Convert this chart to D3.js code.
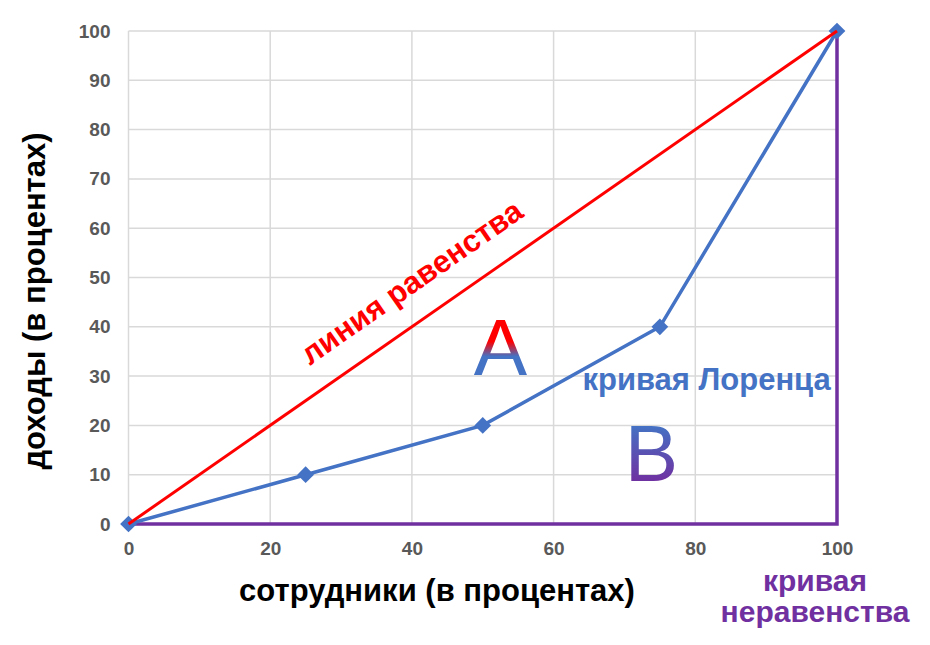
<!DOCTYPE html>
<html>
<head>
<meta charset="utf-8">
<script src="https://cdn.jsdelivr.net/npm/d3@7"></script>
<style>
  body { margin: 0; background: #fff; }
  text { font-family: "Liberation Sans", Arial, sans-serif; font-weight: bold; }
</style>
</head>
<body>
<svg id="chart" width="930" height="645"></svg>
<script>
// Lorenz curve chart

const xTicks = [0, 20, 40, 60, 80, 100];
const yTicks = [0, 10, 20, 30, 40, 50, 60, 70, 80, 90, 100];
const equalityLine = [[0, 0], [100, 100]];
const lorenzCurve = [[0, 0], [25, 10], [50, 20], [75, 40], [100, 100]];
const inequalityCurve = [[0, 0], [100, 0], [100, 100]];

const svg = d3.select('#chart');
const margin = {left: 128.5, right: 93, top: 31, bottom: 121};
const width = 930, height = 645;

const x = d3.scaleLinear().domain([0, 100]).range([margin.left, width - margin.right]);
const y = d3.scaleLinear().domain([0, 100]).range([height - margin.bottom, margin.top]);

// gradients for A and B letters (user space so stops follow the glyphs)
const defs = svg.append('defs');
const gradA = defs.append('linearGradient').attr('id', 'gradA')
  .attr('gradientUnits', 'userSpaceOnUse')
  .attr('x1', 0).attr('y1', y(37)).attr('x2', 0).attr('y2', y(34));
gradA.append('stop').attr('offset', '0%').attr('stop-color', '#ff0000');
gradA.append('stop').attr('offset', '100%').attr('stop-color', '#4472c4');
const gradB = defs.append('linearGradient').attr('id', 'gradB')
  .attr('gradientUnits', 'userSpaceOnUse')
  .attr('x1', 0).attr('y1', y(20)).attr('x2', 0).attr('y2', y(8.5));
gradB.append('stop').attr('offset', '0%').attr('stop-color', '#4472c4');
gradB.append('stop').attr('offset', '100%').attr('stop-color', '#7030a0');

// grid
svg.append('g')
  .selectAll('line.hgrid')
  .data(yTicks)
  .enter().append('line')
    .attr('x1', x(0)).attr('x2', x(100))
    .attr('y1', d => y(d)).attr('y2', d => y(d))
    .attr('stroke', '#d9d9d9').attr('stroke-width', 1.5);
svg.append('g')
  .selectAll('line.vgrid')
  .data(xTicks)
  .enter().append('line')
    .attr('y1', y(0)).attr('y2', y(100))
    .attr('x1', d => x(d)).attr('x2', d => x(d))
    .attr('stroke', '#d9d9d9').attr('stroke-width', 1.5);

// axes (labels only)
const xAxis = svg.append('g')
  .attr('transform', `translate(0,${y(0)})`)
  .call(d3.axisBottom(x).tickValues(xTicks).tickSize(0).tickPadding(18));
const yAxis = svg.append('g')
  .attr('transform', `translate(${x(0)},0)`)
  .call(d3.axisLeft(y).tickValues(yTicks).tickSize(0).tickPadding(18));
[xAxis, yAxis].forEach(a => {
  a.select('.domain').remove();
  a.selectAll('text')
    .attr('fill', '#595959')
    .style('font-size', '19px')
    .style('font-family', '"Liberation Sans", Arial, sans-serif')
    .style('font-weight', 'bold');
});

const line = d3.line().x(d => x(d[0])).y(d => y(d[1]));

// inequality curve
svg.append('path')
  .datum(inequalityCurve)
  .attr('d', line)
  .attr('fill', 'none')
  .attr('stroke', '#7030a0')
  .attr('stroke-width', 3.5);

// Lorenz curve
svg.append('path')
  .datum(lorenzCurve)
  .attr('d', line)
  .attr('fill', 'none')
  .attr('stroke', '#4472c4')
  .attr('stroke-width', 3.5);
svg.append('g')
  .selectAll('path.marker')
  .data(lorenzCurve)
  .enter().append('path')
    .attr('d', d3.symbol().type(d3.symbolSquare).size(140))
    .attr('transform', d => `translate(${x(d[0])},${y(d[1])}) rotate(45)`)
    .attr('fill', '#4472c4');

// equality line
svg.append('path')
  .datum(equalityLine)
  .attr('d', line)
  .attr('fill', 'none')
  .attr('stroke', '#ff0000')
  .attr('stroke-width', 3);

// annotations
const angle = -Math.atan((y(0) - y(100)) / (x(100) - x(0))) * 180 / Math.PI;
svg.append('text')
  .attr('transform', `translate(${x(40.8)},${y(47.3)}) rotate(${angle})`)
  .attr('text-anchor', 'middle')
  .attr('fill', '#ff0000')
  .style('font-size', '31px')
  .text('линия равенства');

svg.append('text')
  .attr('x', x(52.5)).attr('y', y(30.3))
  .attr('text-anchor', 'middle')
  .attr('fill', 'url(#gradA)')
  .style('font-weight', 'normal')
  .style('font-size', '80px')
  .text('A');

svg.append('text')
  .attr('x', x(73.8)).attr('y', y(8.8))
  .attr('text-anchor', 'middle')
  .attr('fill', 'url(#gradB)')
  .style('font-weight', 'normal')
  .style('font-size', '80px')
  .text('B');

svg.append('text')
  .attr('x', x(81.6)).attr('y', y(27.2))
  .attr('text-anchor', 'middle')
  .attr('fill', '#4472c4')
  .style('font-size', '31px')
  .text('кривая Лоренца');

const ineqLabel = svg.append('text')
  .attr('text-anchor', 'middle')
  .attr('fill', '#7030a0')
  .style('font-size', '30px');
ineqLabel.append('tspan').attr('x', 815).attr('y', 591).text('кривая');
ineqLabel.append('tspan').attr('x', 815).attr('y', 622).text('неравенства');

// axis titles
svg.append('text')
  .attr('x', 437).attr('y', 601)
  .attr('text-anchor', 'middle')
  .attr('fill', '#000')
  .style('font-size', '31px')
  .text('сотрудники (в процентах)');

svg.append('text')
  .attr('transform', `translate(45,301) rotate(-90)`)
  .attr('text-anchor', 'middle')
  .attr('fill', '#000')
  .style('font-size', '31px')
  .text('доходы (в процентах)');
</script>
</body>
</html>
